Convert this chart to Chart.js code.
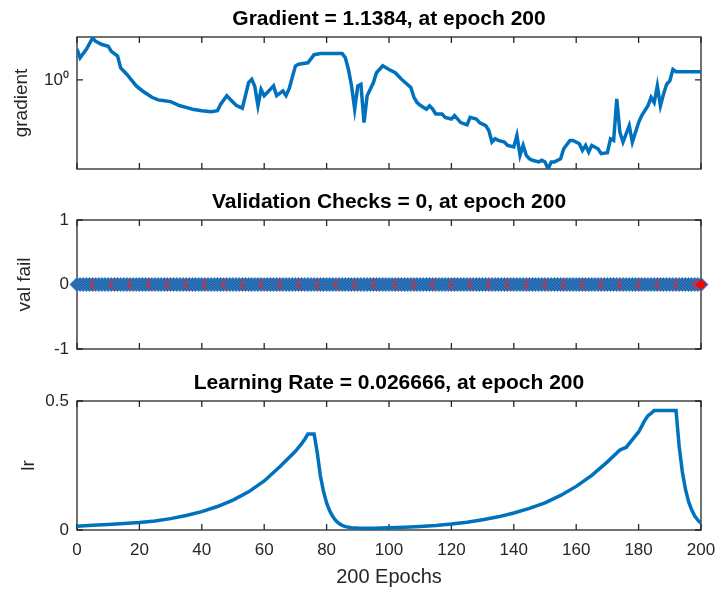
<!DOCTYPE html>
<html>
<head>
<meta charset="utf-8">
<script src="https://cdn.jsdelivr.net/npm/chart.js@4"></script>
<style>
  body { margin: 0; background: #fff; width: 717px; height: 597px; overflow: hidden; position: relative; }
  canvas { position: absolute; left: 0; }
</style>
</head>
<body>
<canvas id="gradChart" width="717" height="180" style="top:0"></canvas>
<canvas id="valChart" width="717" height="180" style="top:180px"></canvas>
<canvas id="lrChart" width="717" height="237" style="top:360px"></canvas>
<script>
// 梯度 (对数坐标)
const gradEpochs = [
  0, 1, 3, 5, 6, 8, 10, 11, 13, 14,
  16, 19, 21, 24, 26, 28, 30, 33, 35, 37,
  40, 43, 45, 46, 48, 49, 51, 53, 55, 56,
  57, 58, 59, 60, 61, 63, 64, 66, 67, 68,
  70, 71, 74, 76, 78, 85, 86, 87, 88, 89,
  90, 91, 92, 93, 95, 96, 98, 100, 102, 104,
  107, 108, 109, 110, 112, 113, 114, 115, 117, 118,
  120, 121, 123, 125, 126, 128, 129, 131, 132, 133,
  134, 135, 137, 138, 140, 141, 142, 143, 144, 145,
  146, 148, 149, 150, 151, 152, 153, 155, 156, 158,
  159, 161, 162, 163, 164, 165, 167, 168, 170, 171,
  172, 173, 174, 175, 177, 178, 180, 181, 183, 184,
  185, 186, 187, 188, 189, 190, 191, 192, 200
];
const gradValues = [
  1.63, 1.42, 1.62, 1.94, 1.84, 1.75, 1.70, 1.57, 1.46, 1.21,
  1.09, 0.91, 0.84, 0.76, 0.73, 0.72, 0.71, 0.665, 0.648, 0.63,
  0.615, 0.606, 0.615, 0.68, 0.78, 0.74, 0.67, 0.64, 0.96, 1.01,
  0.90, 0.665, 0.86, 0.78, 0.82, 0.91, 0.78, 0.84, 0.78, 0.87,
  1.245, 1.28, 1.31, 1.49, 1.52, 1.52, 1.42, 1.18, 0.91, 0.63,
  0.91, 0.934, 0.51, 0.78, 0.96, 1.12, 1.25, 1.18, 1.12, 1.01,
  0.887, 0.76, 0.70, 0.67, 0.63, 0.665, 0.63, 0.584, 0.584, 0.554,
  0.54, 0.569, 0.51, 0.492, 0.554, 0.54, 0.51, 0.486, 0.45, 0.375,
  0.395, 0.385, 0.375, 0.356, 0.347, 0.416, 0.304, 0.356, 0.304, 0.288,
  0.281, 0.274, 0.281, 0.274, 0.245, 0.274, 0.274, 0.288, 0.3375, 0.385,
  0.385, 0.365, 0.329, 0.356, 0.32, 0.356, 0.3375, 0.312, 0.317, 0.395,
  0.385, 0.74, 0.438, 0.375, 0.486, 0.375, 0.51, 0.569, 0.665, 0.76,
  0.70, 0.91, 0.665, 0.80, 0.934, 0.984, 1.18, 1.1384, 1.1384
];

// 验证失败次数
const valEpochs = [
  0, 1, 2, 3, 4, 5, 6, 7, 8, 9, 10, 11, 12, 13, 14, 15, 16, 17, 18, 19,
  20, 21, 22, 23, 24, 25, 26, 27, 28, 29, 30, 31, 32, 33, 34, 35, 36, 37, 38, 39,
  40, 41, 42, 43, 44, 45, 46, 47, 48, 49, 50, 51, 52, 53, 54, 55, 56, 57, 58, 59,
  60, 61, 62, 63, 64, 65, 66, 67, 68, 69, 70, 71, 72, 73, 74, 75, 76, 77, 78, 79,
  80, 81, 82, 83, 84, 85, 86, 87, 88, 89, 90, 91, 92, 93, 94, 95, 96, 97, 98, 99,
  100, 101, 102, 103, 104, 105, 106, 107, 108, 109, 110, 111, 112, 113, 114, 115, 116, 117, 118, 119,
  120, 121, 122, 123, 124, 125, 126, 127, 128, 129, 130, 131, 132, 133, 134, 135, 136, 137, 138, 139,
  140, 141, 142, 143, 144, 145, 146, 147, 148, 149, 150, 151, 152, 153, 154, 155, 156, 157, 158, 159,
  160, 161, 162, 163, 164, 165, 166, 167, 168, 169, 170, 171, 172, 173, 174, 175, 176, 177, 178, 179,
  180, 181, 182, 183, 184, 185, 186, 187, 188, 189, 190, 191, 192, 193, 194, 195, 196, 197, 198, 199,
  200
];
const valFail = [
  0, 0, 0, 0, 0, 0, 0, 0, 0, 0, 0, 0, 0, 0, 0, 0, 0, 0, 0, 0,
  0, 0, 0, 0, 0, 0, 0, 0, 0, 0, 0, 0, 0, 0, 0, 0, 0, 0, 0, 0,
  0, 0, 0, 0, 0, 0, 0, 0, 0, 0, 0, 0, 0, 0, 0, 0, 0, 0, 0, 0,
  0, 0, 0, 0, 0, 0, 0, 0, 0, 0, 0, 0, 0, 0, 0, 0, 0, 0, 0, 0,
  0, 0, 0, 0, 0, 0, 0, 0, 0, 0, 0, 0, 0, 0, 0, 0, 0, 0, 0, 0,
  0, 0, 0, 0, 0, 0, 0, 0, 0, 0, 0, 0, 0, 0, 0, 0, 0, 0, 0, 0,
  0, 0, 0, 0, 0, 0, 0, 0, 0, 0, 0, 0, 0, 0, 0, 0, 0, 0, 0, 0,
  0, 0, 0, 0, 0, 0, 0, 0, 0, 0, 0, 0, 0, 0, 0, 0, 0, 0, 0, 0,
  0, 0, 0, 0, 0, 0, 0, 0, 0, 0, 0, 0, 0, 0, 0, 0, 0, 0, 0, 0,
  0, 0, 0, 0, 0, 0, 0, 0, 0, 0, 0, 0, 0, 0, 0, 0, 0, 0, 0, 0,
  0
];
// 红色 "<" 标记所在的 epoch
const chevEpochs = [5, 11, 17, 23, 29, 35, 41, 47, 53, 59, 65, 71, 77, 83, 89, 95, 102,
  108, 114, 120, 126, 132, 138, 144, 150, 156, 162, 168, 174, 180, 186, 192, 198];
const chevValues = [0, 0, 0, 0, 0, 0, 0, 0, 0, 0, 0, 0, 0, 0, 0, 0, 0,
  0, 0, 0, 0, 0, 0, 0, 0, 0, 0, 0, 0, 0, 0, 0, 0];
const bestEpoch = [200];
const bestValue = [0];

// 学习率
const lrEpochs = [
  0, 5, 10, 15, 20, 25, 30, 35, 40, 45,
  50, 55, 60, 65, 70, 72, 73, 74, 76, 77,
  78, 79, 80, 81, 82, 83, 84, 85, 86, 88,
  90, 95, 100, 105, 110, 115, 120, 125, 130, 135,
  140, 145, 150, 155, 160, 165, 170, 174, 175, 176,
  178, 180, 182, 183, 184, 185, 192, 193, 194, 195,
  196, 197, 198, 199, 200
];
const lrValues = [
  0.015, 0.018, 0.021, 0.025, 0.029, 0.035, 0.044, 0.056, 0.071, 0.091,
  0.116, 0.148, 0.190, 0.245, 0.305, 0.335, 0.352, 0.372, 0.372, 0.30,
  0.21, 0.15, 0.105, 0.074, 0.052, 0.036, 0.025, 0.018, 0.013, 0.009,
  0.0075, 0.007, 0.0085, 0.0105, 0.0135, 0.0175, 0.023, 0.03, 0.04, 0.051,
  0.066, 0.084, 0.105, 0.134, 0.169, 0.212, 0.264, 0.31, 0.315, 0.32,
  0.35, 0.38, 0.425, 0.443, 0.452, 0.463, 0.463, 0.324, 0.227, 0.159,
  0.111, 0.078, 0.054, 0.038, 0.026666
];

// 刻度
const xTicks = [0, 20, 40, 60, 80, 100, 120, 140, 160, 180, 200];
const gradTicks = [1];
const valTicks = [-1, 0, 1];
const lrTicks = [0, 0.5];

const FONT = "'Liberation Sans', Arial, Helvetica, sans-serif";
const AXIS_COLOR = '#262626';
const LINE_BLUE = '#0072bd';

Chart.defaults.font.family = FONT;
Chart.defaults.color = AXIS_COLOR;

const toPoints = (xs, ys) => xs.map((x, i) => ({ x: x, y: ys[i] }));
const useTicks = list => s => { s.ticks = list.map(v => ({ value: v })); };
// 固定坐标轴尺寸, 去掉标签造成的额外留白
const fixWidth = w => s => { s.width = w; s.paddingTop = 0; s.paddingBottom = 0; };
const fixHeight = h => s => { s.height = h; s.paddingLeft = 0; s.paddingRight = 0; };

// 坐标框和向内的刻度线 (MATLAB 风格)
const axesBox = {
  id: 'axesBox',
  beforeDatasetsDraw(chart) {
    const { ctx, chartArea: a, scales } = chart;
    ctx.save();
    ctx.strokeStyle = AXIS_COLOR;
    ctx.lineWidth = 1.3;
    ctx.beginPath();
    scales.x.ticks.forEach(t => {
      const px = scales.x.getPixelForValue(t.value);
      ctx.moveTo(px, a.bottom); ctx.lineTo(px, a.bottom - 6);
      ctx.moveTo(px, a.top); ctx.lineTo(px, a.top + 6);
    });
    scales.y.ticks.forEach(t => {
      const py = scales.y.getPixelForValue(t.value);
      ctx.moveTo(a.left, py); ctx.lineTo(a.left + 6, py);
      ctx.moveTo(a.right, py); ctx.lineTo(a.right - 6, py);
    });
    ctx.stroke();
    ctx.strokeRect(a.left, a.top, a.right - a.left, a.bottom - a.top);
    ctx.restore();
  }
};

// 标题以绘图区为中心
const axesTitle = {
  id: 'axesTitle',
  afterDraw(chart) {
    const { ctx, chartArea: a } = chart;
    ctx.save();
    ctx.font = 'bold 21px ' + FONT;
    ctx.fillStyle = '#000';
    ctx.textAlign = 'center';
    ctx.textBaseline = 'middle';
    ctx.fillText(chart.options.plugins.axesTitle.text, (a.left + a.right) / 2, a.top - 18);
    ctx.restore();
  }
};

// 红色 "<" 点样式
const chevron = document.createElement('canvas');
chevron.width = 8;
chevron.height = 12;
const cc = chevron.getContext('2d');
cc.strokeStyle = '#e8262a';
cc.lineWidth = 1.6;
cc.beginPath();
cc.moveTo(6, 1); cc.lineTo(2, 6); cc.lineTo(6, 11);
cc.stroke();

function xScale(showLabels, height) {
  return {
    type: 'linear', min: 0, max: 200,
    grid: { display: false, drawTicks: false }, border: { display: false },
    ticks: { display: showLabels, font: { size: 17 }, padding: 10, maxRotation: 0 },
    title: { display: showLabels, text: '200 Epochs', font: { size: 20 }, padding: { top: 0, bottom: 8 } },
    afterBuildTicks: useTicks(xTicks),
    afterFit: fixHeight(height)
  };
}

function yScale(extra, label, ticks, callback, titlePad) {
  return Object.assign({
    grid: { display: false, drawTicks: false }, border: { display: false },
    ticks: { font: { size: 17 }, padding: 8, callback: callback },
    title: { display: true, text: label, font: { size: 19 }, padding: { top: titlePad, bottom: 0 } },
    afterBuildTicks: useTicks(ticks),
    afterFit: fixWidth(77)
  }, extra);
}

function baseOptions(title, top, scales) {
  return {
    responsive: false,
    animation: false,
    events: [],
    layout: { padding: { top: top, right: 16 } },
    plugins: { legend: { display: false }, tooltip: { enabled: false }, title: { display: false }, axesTitle: { text: title } },
    scales: scales
  };
}

// 梯度图
new Chart(document.getElementById('gradChart'), {
  type: 'line',
  data: {
    datasets: [{
      data: toPoints(gradEpochs, gradValues),
      borderColor: LINE_BLUE, borderWidth: 3.5, pointRadius: 0, tension: 0
    }]
  },
  options: baseOptions('Gradient = 1.1384, at epoch 200', 37, {
    x: xScale(false, 11),
    y: yScale({ type: 'logarithmic', min: 0.245, max: 1.97 }, 'gradient', gradTicks, v => (v === 1 ? '10\u2070' : ''), 10)
  }),
  plugins: [axesBox, axesTitle]
});

// 验证检查图
new Chart(document.getElementById('valChart'), {
  type: 'line',
  data: {
    datasets: [
      { data: toPoints(bestEpoch, bestValue), showLine: false, pointStyle: 'rectRot', pointRadius: 5,
        pointBackgroundColor: '#ff0000', pointBorderColor: '#ff0000', order: 1, clip: false },
      { data: toPoints(chevEpochs, chevValues), showLine: false, pointStyle: chevron, order: 2, clip: false },
      { data: toPoints(valEpochs, valFail), borderColor: '#1d5fa6', borderWidth: 2, pointStyle: 'rectRot', pointRadius: 7,
        pointBackgroundColor: '#2063a9', pointBorderColor: '#3a86c8', pointBorderWidth: 1, order: 3, clip: false }
    ]
  },
  options: baseOptions('Validation Checks = 0, at epoch 200', 40, {
    x: xScale(false, 11),
    y: yScale({ type: 'linear', min: -1, max: 1 }, 'val fail', valTicks, v => String(v), 13)
  }),
  plugins: [axesBox, axesTitle]
});

// 学习率图
new Chart(document.getElementById('lrChart'), {
  type: 'line',
  data: {
    datasets: [{
      data: toPoints(lrEpochs, lrValues),
      borderColor: LINE_BLUE, borderWidth: 3.5, pointRadius: 0, tension: 0
    }]
  },
  options: baseOptions('Learning Rate = 0.026666, at epoch 200', 41, {
    x: xScale(true, 67),
    y: yScale({ type: 'linear', min: 0, max: 0.5 }, 'lr', lrTicks, v => String(v), 17)
  }),
  plugins: [axesBox, axesTitle]
});
</script>
</body>
</html>
